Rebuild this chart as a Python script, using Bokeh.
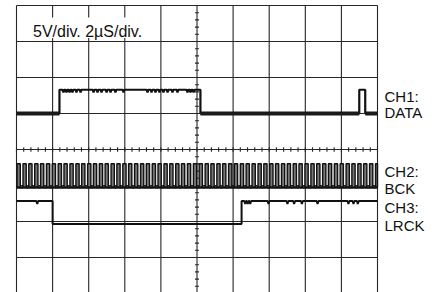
import numpy as np
from bokeh.plotting import figure
from bokeh.embed import file_html
from bokeh.resources import INLINE
from bokeh.core.properties import value

# ---------------- scope settings ----------------
volts_per_div = 5.0          # 5V/div
us_per_div = 2.0             # 2uS/div
n_hdiv = 10
n_vdiv = 8
scale_text = "5V/div. 2µS/div."

# ---------------- CH1: DATA ----------------
ch1_label = ["CH1:", "DATA"]
ch1_high_v = 3.3
ch1_start_high = False
ch1_edges_us = [2.38, 10.19, 18.99, 19.32]
ch1_dips_us = [2.60, 2.77, 2.94, 3.10, 3.32, 3.55, 4.27, 4.49, 4.71, 4.99, 5.21,
               5.48, 5.93, 7.26, 7.48, 7.70, 7.92, 8.14, 8.37, 8.64, 8.92, 9.47,
               9.64, 9.81]
ch1_dip_v = 0.35

# ---------------- CH2: BCK ----------------
ch2_label = ["CH2:", "BCK"]
ch2_high_v = 3.3
ch2_rise_us = [0.03, 0.36, 0.68, 1.01, 1.33, 1.66, 1.98, 2.31, 2.63, 2.96, 3.29,
               3.61, 3.94, 4.26, 4.59, 4.91, 5.24, 5.56, 5.89, 6.21, 6.54, 6.87,
               7.19, 7.52, 7.84, 8.17, 8.49, 8.82, 9.14, 9.47, 9.80, 10.12, 10.45,
               10.77, 11.10, 11.42, 11.75, 12.07, 12.40, 12.72, 13.05, 13.38, 13.70,
               14.03, 14.35, 14.68, 15.00, 15.33, 15.65, 15.98, 16.31, 16.63, 16.96,
               17.28, 17.61, 17.93, 18.26, 18.58, 18.91, 19.23, 19.56, 19.89]
ch2_high_time_us = 0.18

# ---------------- CH3: LRCK ----------------
ch3_label = ["CH3:", "LRCK"]
ch3_high_v = 3.2
ch3_start_high = True
ch3_edges_us = [2.00, 12.47]
ch3_dips_us = [1.15, 12.67, 12.81, 12.95, 13.96, 15.01, 15.38, 15.81, 16.68,
               18.39, 18.67, 18.91]
ch3_dip_v = 0.4

# ground reference positions of each channel on the screen (in divisions)
ch1_ground_div = 1.0
ch2_ground_div = -1.056
ch3_ground_div = -2.07

T_END = n_hdiv * us_per_div


def square(edges, start_high, high_v, dips=(), dip_v=0.0, hw=0.05):
    state = start_high
    xs = [0.0]
    ys = [high_v if state else 0.0]
    events = sorted([(t, "e") for t in edges] + [(t, "d") for t in dips])
    for t, kind in events:
        lvl = high_v if state else 0.0
        if kind == "e":
            state = not state
            xs += [t, t]
            ys += [lvl, high_v if state else 0.0]
        else:
            xs += [t - hw, t, t + hw]
            ys += [lvl, lvl - dip_v, lvl]
    xs.append(T_END)
    ys.append(high_v if state else 0.0)
    return np.array(xs), np.array(ys)


def to_div(v, ground):
    return ground + np.asarray(v) / volts_per_div


# ---------------- figure ----------------
px_per_us = 18.05
px_per_div = 36.0
FIG_X, FIG_Y = 0, 0
W, H = 438, 292
x0 = (FIG_X - 16) / px_per_us
x1 = (FIG_X + W - 16) / px_per_us
y_top = (149 - FIG_Y) / px_per_div
y_bot = (149 - FIG_Y - H) / px_per_div

p = figure(width=W, height=H, x_range=(x0, x1), y_range=(y_bot, y_top),
           x_axis_type=None, y_axis_type=None, toolbar_location=None,
           output_backend="svg", min_border=0, outline_line_color=None)
p.grid.visible = False
p.background_fill_color = "white"
p.border_fill_color = "white"

grid_col = "#262626"
# vertical graticule lines
vx = [i * us_per_div for i in range(n_hdiv + 1)]
p.segment(x0=vx, y0=[-n_vdiv / 2] * len(vx), x1=vx, y1=[n_vdiv / 2] * len(vx),
          line_color=grid_col, line_width=1.1, level="underlay")
# horizontal graticule lines
hy = [j - n_vdiv / 2 for j in range(n_vdiv + 1)]
p.segment(x0=[0] * len(hy), y0=hy, x1=[T_END] * len(hy), y1=hy,
          line_color=grid_col, line_width=1.1, level="underlay")
# minor ticks on center lines
tx = np.arange(0, T_END + 1e-6, us_per_div / 5)
p.segment(x0=tx, y0=[-0.06] * len(tx), x1=tx, y1=[0.06] * len(tx),
          line_color=grid_col, line_width=1.1, level="underlay")
ty = np.arange(-n_vdiv / 2, n_vdiv / 2 + 1e-6, 0.2)
xc = T_END / 2
p.segment(x0=[xc - 0.11] * len(ty), y0=ty, x1=[xc + 0.11] * len(ty), y1=ty,
          line_color=grid_col, line_width=1.1, level="underlay")

# white box behind the scale text
p.quad(left=[0.06], right=[7.8], bottom=[3.10], top=[3.67],
       fill_color="white", line_color=None)
p.text(x=[(32.5 - 16) / px_per_us], y=[(149 - 31) / px_per_div], text=[scale_text],
       text_font=value("Liberation Sans"), text_font_size="16px",
       text_color="#111111", text_baseline="alphabetic")

# ---------------- CH1 ----------------
x1s, v1 = square(ch1_edges_us, ch1_start_high, ch1_high_v, ch1_dips_us, ch1_dip_v)
p.line(x1s, to_div(v1, ch1_ground_div), line_color="#111111", line_width=2.2)
# low-level noise band
lows = [0.0] + ch1_edges_us + [T_END]
for a, b in zip(lows[0::2], lows[1::2]):
    p.line([a, b], [ch1_ground_div, ch1_ground_div], line_color="#1a1a1a", line_width=3.8)

# ---------------- CH2 ----------------
bx = [0.0]
bv = [0.0]
for r in ch2_rise_us:
    f = min(r + ch2_high_time_us, T_END)
    bx += [r, r, f, f]
    bv += [0.0, ch2_high_v, ch2_high_v, 0.0]
bx.append(T_END)
bv.append(0.0)
bx = np.array(bx)
p.varea(x=bx, y1=[ch2_ground_div] * len(bx), y2=to_div(bv, ch2_ground_div),
        fill_color="#777777")
p.line(bx, to_div(bv, ch2_ground_div), line_color="#111111", line_width=1.4)
p.line([0, T_END], [ch2_ground_div, ch2_ground_div], line_color="#111111", line_width=2.6)

# ---------------- CH3 ----------------
x3s, v3 = square(ch3_edges_us, ch3_start_high, ch3_high_v, ch3_dips_us, ch3_dip_v)
p.line(x3s, to_div(v3, ch3_ground_div), line_color="#111111", line_width=2.0)

# ---------------- channel labels ----------------
lab_x = (384 - 16) / px_per_us
lab_text = ch1_label + ch2_label + ch3_label
lab_base_px = [96, 112, 171, 188, 207, 224.5]
p.text(x=[lab_x] * len(lab_text), y=[(149 - b) / px_per_div for b in lab_base_px],
       text=lab_text, text_font=value("Liberation Sans"), text_font_size="15px",
       text_color="#111111", text_baseline="alphabetic")

open("out.html", "w").write(file_html(p, INLINE))
